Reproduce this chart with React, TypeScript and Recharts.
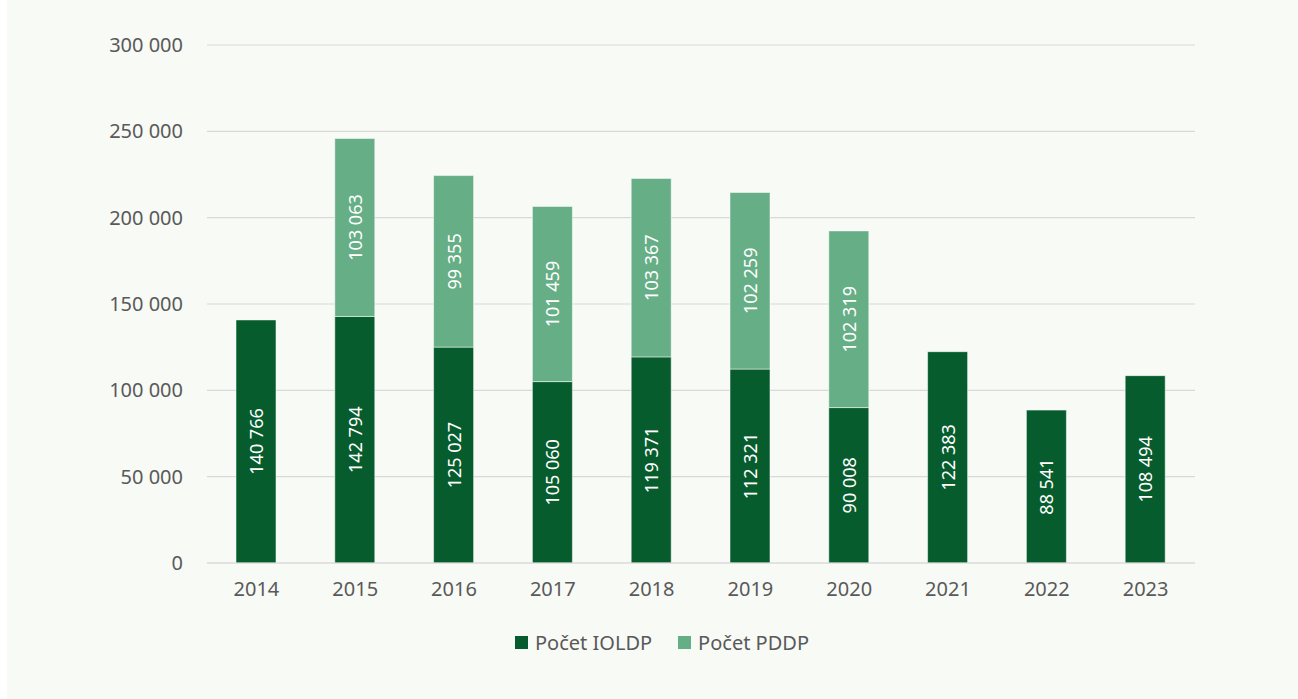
import React from 'react';
import {
  BarChart,
  Bar,
  XAxis,
  YAxis,
  CartesianGrid,
  Legend,
  LabelList
} from 'recharts';

const years = ['2014', '2015', '2016', '2017', '2018', '2019', '2020', '2021', '2022', '2023'];
const ioldp = [140766, 142794, 125027, 105060, 119371, 112321, 90008, 122383, 88541, 108494];
const pddp: (number | null)[] = [null, 103063, 99355, 101459, 103367, 102259, 102319, null, null, null];
const yTicks = [0, 50000, 100000, 150000, 200000, 250000, 300000];

const DARK = '#075c2d';
const LIGHT = '#66ae85';
const TEXT = '#595959';
const FONT = '"Noto Sans", sans-serif';

const data = years.map((year, i) => ({
  year,
  ioldp: ioldp[i],
  pddp: pddp[i]
}));

const fmt = (v: number) => String(v).replace(/\B(?=(\d{3})+(?!\d))/g, ' ');

const renderBarLabel = (props: any) => {
  const { x, y, width, height, value } = props;
  if (value == null) return null;
  const cx = Number(x) + Number(width) / 2;
  const cy = Number(y) + Number(height) / 2;
  return (
    <text
      x={cx}
      y={cy}
      transform={`rotate(-90, ${cx}, ${cy})`}
      textAnchor="middle"
      dominantBaseline="central"
      fill="#ffffff"
      fontSize={18}
      fontFamily={FONT}
    >
      {fmt(value)}
    </text>
  );
};

const renderLegend = () => {
  const items = [
    { name: 'Počet IOLDP', color: DARK },
    { name: 'Počet PDDP', color: LIGHT }
  ];
  return (
    <div style={{ display: 'flex', alignItems: 'center', fontFamily: FONT, fontSize: 20, color: TEXT }}>
      {items.map(item => (
        <div key={item.name} style={{ display: 'flex', alignItems: 'center', marginRight: 26 }}>
          <span style={{ display: 'inline-block', width: 13, height: 13, background: item.color, marginRight: 7 }} />
          <span>{item.name}</span>
        </div>
      ))}
    </div>
  );
};

const App: React.FC = () => {
  return (
    <div
      style={{
        position: 'absolute',
        left: 7,
        top: 0,
        width: 1291,
        height: 699,
        background: '#f8faf6'
      }}
    >
      <BarChart
        width={1291}
        height={699}
        data={data}
        margin={{ top: 45, right: 103, left: 100, bottom: 96 }}
      >
        <CartesianGrid vertical={false} stroke="#d9d9d9" strokeWidth={1.2} />
        <XAxis
          dataKey="year"
          axisLine={{ stroke: '#d9d9d9', strokeWidth: 1.2 }}
          tickLine={false}
          tickSize={0}
          tickMargin={19}
          height={40}
          tick={{ fill: TEXT, fontSize: 20, fontFamily: FONT }}
        />
        <YAxis
          width={100}
          domain={[0, 300000]}
          ticks={yTicks}
          axisLine={false}
          tickLine={false}
          tickSize={0}
          tickMargin={24}
          tickFormatter={fmt}
          tick={{ fill: TEXT, fontSize: 20, fontFamily: FONT }}
        />
        <Legend
          content={renderLegend}
          height={0}
          wrapperStyle={{ left: 508, top: 629, width: 400, height: 0 }}
        />
        <Bar
          dataKey="ioldp"
          name="Počet IOLDP"
          stackId="a"
          fill={DARK}
          stroke="#ffffff"
          strokeOpacity={0.5}
          strokeWidth={1}
          barSize={40}
          isAnimationActive={false}
        >
          <LabelList dataKey="ioldp" content={renderBarLabel} />
        </Bar>
        <Bar
          dataKey="pddp"
          name="Počet PDDP"
          stackId="a"
          fill={LIGHT}
          stroke="#ffffff"
          strokeOpacity={0.5}
          strokeWidth={1}
          barSize={40}
          isAnimationActive={false}
        >
          <LabelList dataKey="pddp" content={renderBarLabel} />
        </Bar>
      </BarChart>
    </div>
  );
};

export default App;
